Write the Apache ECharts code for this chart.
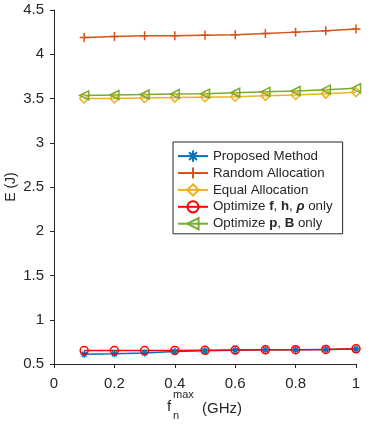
<!DOCTYPE html>
<html>
<head>
<meta charset="utf-8">
<script src="https://cdn.jsdelivr.net/npm/echarts@6/dist/echarts.min.js"></script>
<style>
html,body{margin:0;padding:0;background:#fff;}
#chart{width:369px;height:425px;}
</style>
</head>
<body>
<div id="chart"></div>
<script>
var xValues = [0.1, 0.2, 0.3, 0.4, 0.5, 0.6, 0.7, 0.8, 0.9, 1.0];
var proposed = [0.61, 0.615, 0.625, 0.64, 0.65, 0.655, 0.66, 0.66, 0.665, 0.67];
var randomAlloc = [4.19, 4.20, 4.21, 4.21, 4.215, 4.22, 4.235, 4.25, 4.265, 4.285];
var equalAlloc = [3.50, 3.50, 3.505, 3.51, 3.515, 3.52, 3.53, 3.54, 3.555, 3.57];
var optFH = [0.652, 0.652, 0.652, 0.653, 0.655, 0.658, 0.66, 0.662, 0.665, 0.672];
var optPB = [3.535, 3.54, 3.545, 3.55, 3.555, 3.565, 3.575, 3.585, 3.60, 3.615];
var seriesNames = ['Proposed Method', 'Random Allocation', 'Equal Allocation', 'Optimize f, h, ρ only', 'Optimize p, B only'];
var legendRich = {
  'Proposed Method': '{t|Proposed Method}',
  'Random Allocation': '{t|Random Allocation}',
  'Equal Allocation': '{t|Equal Allocation}',
  'Optimize f, h, ρ only': '{t|Optimize }{b|f}{t|, }{b|h}{t|, }{bi|ρ}{t| only}',
  'Optimize p, B only': '{t|Optimize }{b|p}{t|, }{b|B}{t| only}'
};
var yTicks = {min: 0.5, max: 4.5, interval: 0.5};
var xTicks = {min: 0, max: 1, interval: 0.2};

function pairs(ys) { return xValues.map(function (x, i) { return [x, ys[i]]; }); }

var FONT = '"Liberation Sans", Arial, Helvetica, sans-serif';
var TXT = '#262626';
var LF = 13.3;
var symPlus = 'path://M-1,0 L1,0 M0,-1 L0,1';
var symStar = 'path://M-1,0 L1,0 M0,-1 L0,1 M-0.7,-0.7 L0.7,0.7 M-0.7,0.7 L0.7,-0.7';
var symTri = 'path://M-1,0 L1,-1 L1,1 Z';

function mk(name, data, color, symbol, size) {
  return {
    name: name, type: 'line', data: pairs(data),
    symbol: symbol, symbolSize: size, showSymbol: true,
    lineStyle: {color: color, width: 1.5},
    itemStyle: {color: 'none', borderColor: color, borderWidth: 1.5},
    animation: false
  };
}

var chart = echarts.init(document.getElementById('chart'), null, {renderer: 'canvas'});
chart.setOption({
  backgroundColor: '#fff',
  animation: false,
  grid: {left: 54, right: 13, top: 10, bottom: 61, containLabel: false, outerBoundsMode: 'none'},
  xAxis: {
    type: 'value', min: xTicks.min, max: xTicks.max, interval: xTicks.interval,
    axisLine: {show: true, lineStyle: {color: TXT, width: 1}},
    axisTick: {show: true, inside: false, length: 4, lineStyle: {color: TXT}},
    splitLine: {show: false},
    axisLabel: {color: TXT, fontSize: 15, fontFamily: FONT, margin: 12}
  },
  yAxis: {
    type: 'value', min: yTicks.min, max: yTicks.max, interval: yTicks.interval,
    name: 'E (J)', nameLocation: 'middle', nameGap: 36, nameMoveOverlap: false,
    nameTextStyle: {color: TXT, fontSize: 14, fontFamily: FONT},
    axisLine: {show: true, lineStyle: {color: TXT, width: 1}},
    axisTick: {show: true, inside: false, length: 4, lineStyle: {color: TXT}},
    splitLine: {show: false},
    axisLabel: {color: TXT, fontSize: 15, fontFamily: FONT, margin: 10}
  },
  legend: {
    data: seriesNames,
    left: 173, top: 142, orient: 'vertical',
    backgroundColor: '#fff', borderColor: TXT, borderWidth: 1,
    padding: [6, 10, 2, 4], itemGap: 0.7, itemWidth: 30, itemHeight: 14,
    formatter: function (n) { return legendRich[n]; },
    textStyle: {
      color: TXT, fontSize: LF, fontFamily: FONT, lineHeight: 14,
      rich: {
        t: {fontSize: LF, fontFamily: FONT, color: TXT, lineHeight: 14},
        b: {fontSize: LF, fontFamily: FONT, color: TXT, fontWeight: 'bold', lineHeight: 14},
        bi: {fontSize: LF, fontFamily: FONT, color: TXT, fontWeight: 'bold', fontStyle: 'italic', lineHeight: 14}
      }
    }
  },
  series: [
    mk(seriesNames[0], proposed, '#0072BD', symStar, 7),
    mk(seriesNames[1], randomAlloc, '#D95319', symPlus, 9),
    mk(seriesNames[2], equalAlloc, '#EDB120', 'diamond', 9),
    mk(seriesNames[3], optFH, '#FF0000', 'circle', 8),
    mk(seriesNames[4], optPB, '#77AC30', symTri, 9)
  ],
  graphic: [
    {type: 'text', left: 167, top: 399, style: {text: 'f', font: '15px ' + FONT, fill: TXT}},
    {type: 'text', left: 173, top: 389, style: {text: 'max', font: '11px ' + FONT, fill: TXT}},
    {type: 'text', left: 173, top: 410, style: {text: 'n', font: '11px ' + FONT, fill: TXT}},
    {type: 'text', left: 202, top: 401, style: {text: '(GHz)', font: '15px ' + FONT, fill: TXT}}
  ]
});
</script>
</body>
</html>
